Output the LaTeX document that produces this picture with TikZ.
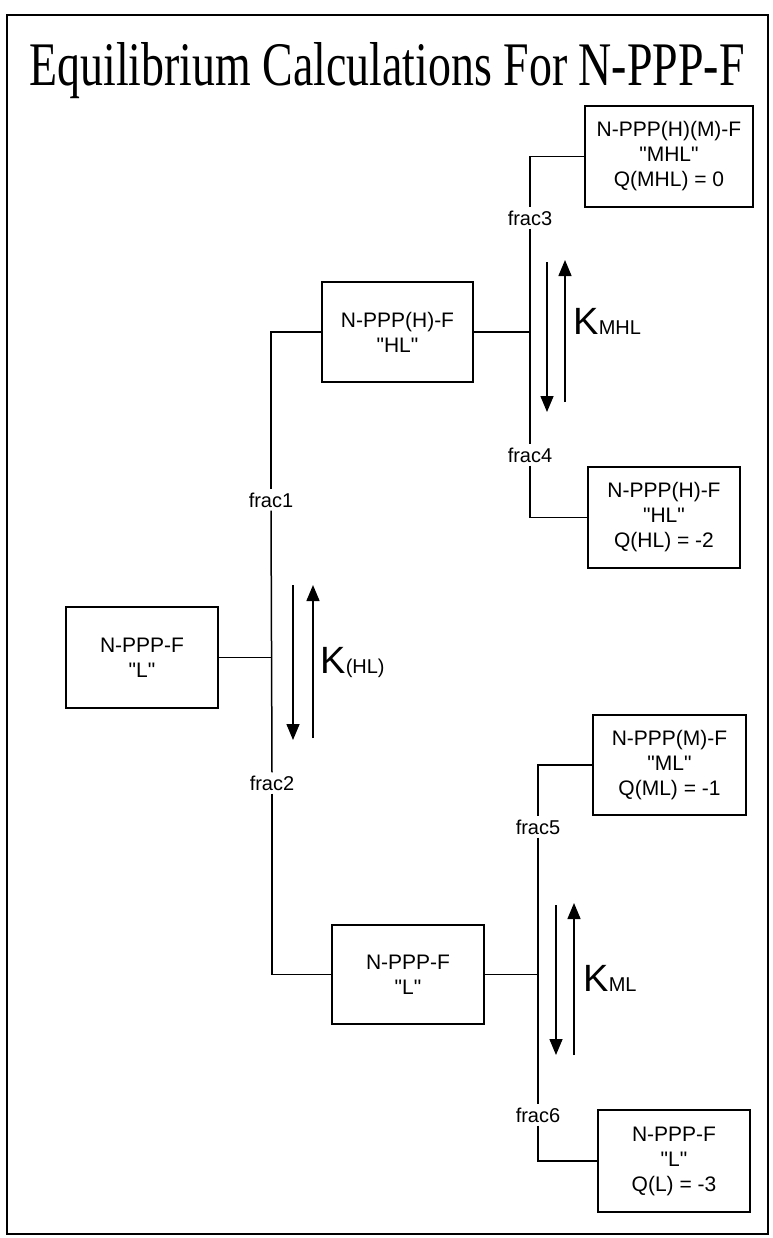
\documentclass[tikz,border=0pt]{standalone}
\usepackage{fontspec}
\setmainfont{Liberation Sans}
\newfontfamily\titlefont{Liberation Serif}
\newfontfamily\plainsans{Liberation Sans}
\newcommand\qq[1]{{\plainsans\char34}#1{\plainsans\char34}}
\usetikzlibrary{arrows.meta}
\begin{document}
\begin{tikzpicture}[x=0.5pt,y=-0.5pt,
  box/.style={draw,line width=0.75pt,align=center,inner sep=0pt,
    font=\fontsize{10.5}{12.5}\selectfont},
  lab/.style={inner sep=1.5pt,font=\fontsize{10}{12}\selectfont},
  conn/.style={line width=0.75pt},
  arr/.style={line width=0.75pt,-{Triangle[width=6.5pt,length=8pt]}},
  klab/.style={anchor=base west,inner sep=0pt}]
\useasboundingbox (0,0) rectangle (772,1238);
\draw[line width=1pt] (7,15) rectangle (768,1234);
\node[anchor=base,inner sep=0pt] (title) at (387,85)
  {\resizebox{357.5pt}{\height}{\titlefont\fontsize{31}{33}\selectfont Equilibrium Calculations For N-PPP-F}};
% boxes
\node[box,minimum width=84pt,minimum height=50.5pt] (MHL) at (669,156.5)
  {N-PPP(H)(M)-F\\\qq{MHL}\\Q(MHL) = 0};
\node[box,minimum width=75.5pt,minimum height=50pt] (HL1) at (397.5,332)
  {N-PPP(H)-F\\\qq{HL}};
\node[box,minimum width=76pt,minimum height=50.5pt] (HL2) at (664,517.5)
  {N-PPP(H)-F\\\qq{HL}\\Q(HL) = -2};
\node[box,minimum width=76pt,minimum height=50.5pt] (L1) at (142,657.5)
  {N-PPP-F\\\qq{L}};
\node[box,minimum width=76.5pt,minimum height=50pt] (ML) at (669.5,765)
  {N-PPP(M)-F\\\qq{ML}\\Q(ML) = -1};
\node[box,minimum width=76pt,minimum height=49.5pt] (L2) at (408,974.5)
  {N-PPP-F\\\qq{L}};
\node[box,minimum width=76pt,minimum height=51pt] (L3) at (674,1161)
  {N-PPP-F\\\qq{L}\\Q(L) = -3};
% labels
\node[lab] (f1) at (271,500) {frac1};
\node[lab] (f2) at (272,783) {frac2};
\node[lab] (f3) at (530,218) {frac3};
\node[lab] (f4) at (530,455) {frac4};
\node[lab] (f5) at (538,827) {frac5};
\node[lab] (f6) at (538,1115) {frac6};
% connectors
\draw[conn] (HL1.west) -| (f1.north);
\draw[conn] (f1.south) -- (f2.north);
\draw[conn] (L1.east) -- (L1.east -| f1.south);
\draw[conn] (f2.south) |- (L2.west);
\draw[conn] (MHL.west) -| (f3.north);
\draw[conn] (f3.south) -- (f4.north);
\draw[conn] (HL1.east) -- (HL1.east -| f3.south);
\draw[conn] (f4.south) |- (HL2.west);
\draw[conn] (ML.west) -| (f5.north);
\draw[conn] (f5.south) -- (f6.north);
\draw[conn] (L2.east) -- (L2.east -| f5.south);
\draw[conn] (f6.south) |- (L3.west);
% equilibrium arrows
\coordinate (a1a) at (293,585); \coordinate (a1b) at (293,740);
\coordinate (a1c) at (313,738); \coordinate (a1d) at (313,585);
\coordinate (a2a) at (547,262); \coordinate (a2b) at (547,412);
\coordinate (a2c) at (565,402); \coordinate (a2d) at (565,260);
\coordinate (a3a) at (556,905); \coordinate (a3b) at (556,1055);
\coordinate (a3c) at (574,1055); \coordinate (a3d) at (574,903);
\draw[arr] (a1a) -- (a1b);
\draw[arr] (a1c) -- (a1d);
\draw[arr] (a2a) -- (a2b);
\draw[arr] (a2c) -- (a2d);
\draw[arr] (a3a) -- (a3b);
\draw[arr] (a3c) -- (a3d);
% K labels
\node[klab] (k1) at (320,673) {\fontsize{19}{19}\selectfont K\fontsize{10}{10}\selectfont(HL)};
\node[klab] (k2) at (573,334) {\fontsize{19}{19}\selectfont K\fontsize{10}{10}\selectfont MHL};
\node[klab] (k3) at (583,991) {\fontsize{19}{19}\selectfont K\fontsize{10}{10}\selectfont ML};
\end{tikzpicture}
\end{document}
